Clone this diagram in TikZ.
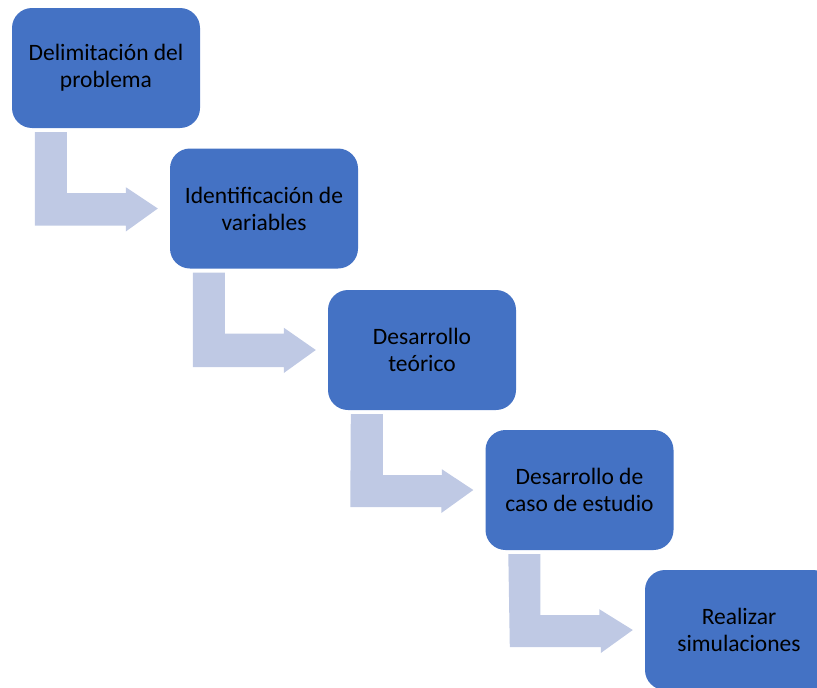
\documentclass[tikz,border=0pt]{standalone}
\usepackage{fontspec}
\setmainfont{Carlito}
\usetikzlibrary{calc}
\definecolor{boxblue}{RGB}{68,114,196}
\definecolor{arrowgrey}{RGB}{191,201,228}
\begin{document}
\begin{tikzpicture}[x=1pt,y=-1pt,
  stage/.style={fill=boxblue, draw=none, rounded corners=20pt, minimum width=188pt, minimum height=120pt, inner sep=0pt, align=center, text=black, font=\fontsize{23.5}{27}\selectfont},
  bentarrow/.style={fill=arrowgrey, draw=none}]
\useasboundingbox (0,0) rectangle (817,688);
\clip (0,0) rectangle (817,688);
\node[stage] (s1) at (106,68) {Delimitación del\\problema};
\node[stage] (s2) at (264,208.5) {Identificación de\\variables};
\node[stage] (s3) at (422,350) {Desarrollo\\teórico};
\node[stage] (s4) at (579.5,490) {Desarrollo de\\caso de estudio};
\node[stage] (s5) at (739,630) {Realizar\\simulaciones};
\foreach \a/\b in {s1/s2,s2/s3,s3/s4,s4/s5}{
  \fill[bentarrow] ($(\a.south west)+(23,4)$) -- ++(32,0) -- ++(0,61) -- ++(59,0) -- ++(0,-6) -- ($(\b.west)+(-12,0)$) -- ++(-32,23) -- ++(0,-6) -- ++(-91,0) -- cycle;
}
\end{tikzpicture}
\end{document}
